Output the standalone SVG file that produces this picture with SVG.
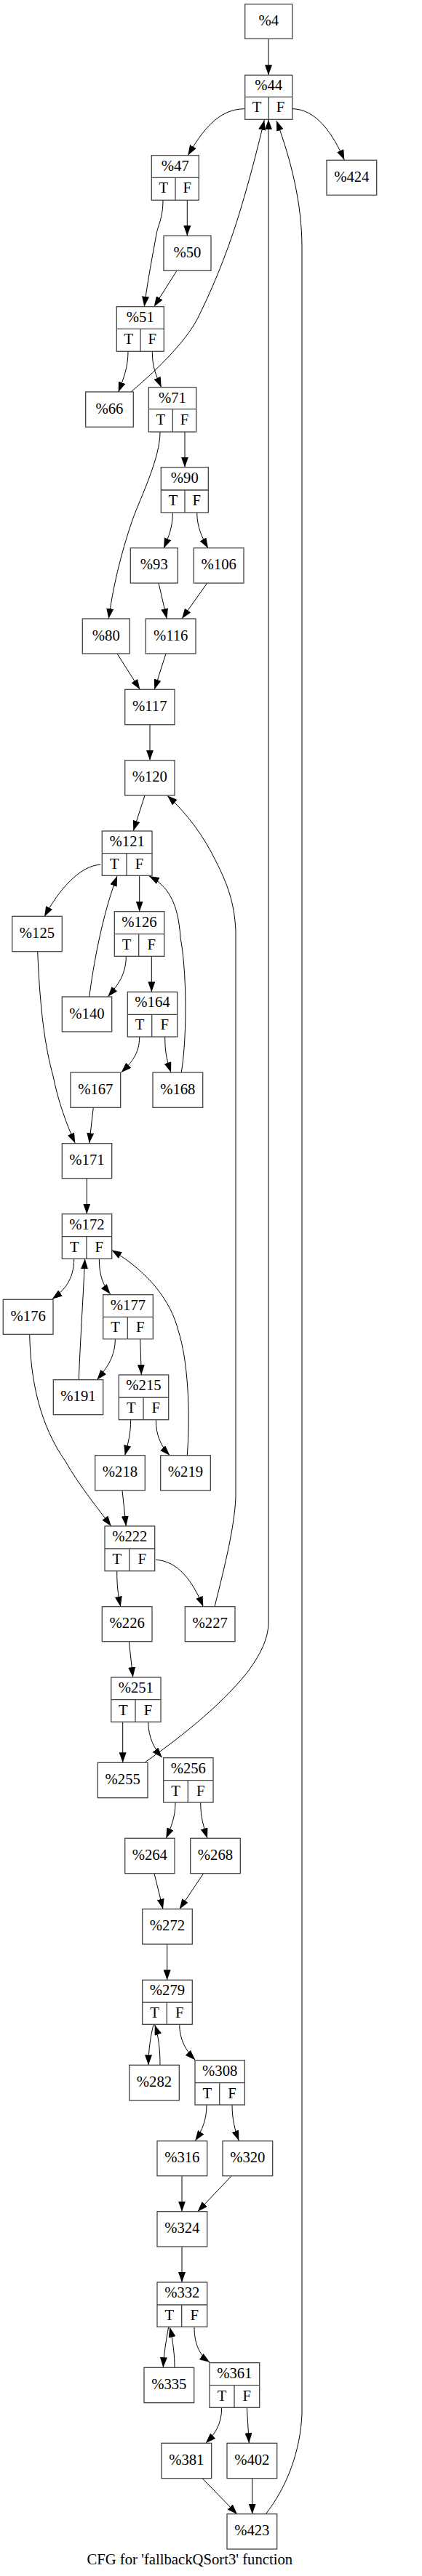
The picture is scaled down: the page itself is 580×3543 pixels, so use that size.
<svg xmlns="http://www.w3.org/2000/svg" width="580" height="3543" viewBox="0 0 580 3543">
<style>
.n rect{fill:#fff;stroke:#444;stroke-width:1.3}
.n line{stroke:#444;stroke-width:1.3}
text{font-family:"Liberation Serif","Times New Roman",serif;font-size:20.7px;text-anchor:middle;fill:#000}
.e path{fill:none;stroke:#000;stroke-width:1;marker-end:url(#a)}
</style>
<defs>
<marker id="a" markerUnits="userSpaceOnUse" markerWidth="14" markerHeight="10" refX="14" refY="5" orient="auto" viewBox="0 0 14 10"><path d="M0,0 L14,5 L0,10 z" fill="#000"/></marker>
</defs>
<rect x="0" y="0" width="580" height="3543" fill="#fff"/>
<g id="edges" class="e">
<path d="M369,53.3 L369,103.3"/>
<path d="M335.7,149.7 C300,150 278,180 258.3,213.7"/>
<path d="M402,149.7 C435,150 458,185 473.3,220"/>
<path d="M224,275.3 C224,300 217,310 215,322 C210,350 203,385 198.3,421.7"/>
<path d="M257.3,275.3 L257.3,324.3"/>
<path d="M243,372.3 L211.7,421.7"/>
<path d="M176,483.3 C176,505 170,520 162.7,539.3"/>
<path d="M209.3,483.3 C209.3,505 214,515 221.7,532.7"/>
<path d="M180,539 C220,505 260,465 275,431 C300,380 318,330 330,290 C345,240 355,200 363.3,165"/>
<path d="M220,594 C220,630 195,680 182,715 C165,765 155,810 149.3,851"/>
<path d="M254,594 L254,642.7"/>
<path d="M237.3,705 C237.3,725 232,738 225,754"/>
<path d="M270.7,705 C270.7,725 278,740 286,754"/>
<path d="M218,802 L229.3,851"/>
<path d="M284.7,802 L250,851"/>
<path d="M161,899 L192.3,948.3"/>
<path d="M228,899 L212.3,948.3"/>
<path d="M206,996.7 L206,1045.7"/>
<path d="M199,1094 L183.3,1142.7"/>
<path d="M295,2209.7 C310,2150 322,2100 324,2060 L324,1280 C322,1240 312,1215 297,1185 C280,1150 258,1120 230,1094.3"/>
<path d="M138.3,1189.3 C110,1190 80,1225 61,1260.7"/>
<path d="M191.7,1204.3 L191.7,1253.7"/>
<path d="M122.7,1371 C128,1330 140,1260 161,1205"/>
<path d="M173.3,1315.3 C173.3,1340 162,1355 148.3,1370.7"/>
<path d="M208.3,1315.3 L208.3,1364.3"/>
<path d="M191.7,1426 C191.7,1450 180,1462 166.7,1475"/>
<path d="M226.7,1426 C226.7,1450 230,1460 235,1475"/>
<path d="M249.3,1475 C258,1420 256,1330 248,1290 C245,1240 230,1218 205,1205"/>
<path d="M51.7,1308.7 C55,1390 62,1440 73,1480 C80,1515 92,1548 103.3,1572.3"/>
<path d="M128.3,1523.3 L122.7,1572.3"/>
<path d="M119.3,1620.7 L119.3,1669.7"/>
<path d="M101.7,1731.3 C101.7,1760 88,1775 71.7,1786.7"/>
<path d="M136.3,1731.3 C136.3,1755 142,1768 151.7,1780"/>
<path d="M108.3,1897.7 C110,1850 114,1790 116.7,1731.3"/>
<path d="M257.3,2001.7 C262,1940 258,1870 245,1830 C235,1790 205,1750 153.3,1719.3"/>
<path d="M158.3,1841.7 C158.3,1865 148,1880 133.3,1897.7"/>
<path d="M192.7,1841.7 L194.3,1891"/>
<path d="M179.7,1952.7 C179.7,1972 176,1985 171.7,2001.7"/>
<path d="M214.3,1952.7 C214.3,1975 222,1990 233.3,2001.7"/>
<path d="M40.7,1835.3 C42,1900 55,1960 90,2010 C110,2045 135,2075 152.7,2099"/>
<path d="M168,2050 L173.3,2099"/>
<path d="M160.7,2160.7 C160.7,2180 162,2192 165.7,2209.7"/>
<path d="M214,2145.3 C245,2147 265,2175 279.3,2209.7"/>
<path d="M177.3,2257.7 L182.7,2307"/>
<path d="M168.7,2368.3 L168.7,2424.3"/>
<path d="M203.7,2368.3 C204,2390 212,2405 222.7,2417.3"/>
<path d="M200,2423.3 C240,2395 300,2350 340,2300 C362,2270 369,2250 369,2230 L369,164.3"/>
<path d="M241,2479 C241,2500 235,2513 228.3,2528.3"/>
<path d="M275.7,2479 C275.7,2500 280,2513 285,2528.3"/>
<path d="M212,2576.7 L224,2625.7"/>
<path d="M279.7,2576.7 L246.7,2625.7"/>
<path d="M229.7,2674 L229.7,2723.3"/>
<path d="M211,2784.3 C207,2800 204,2820 204,2840.3"/>
<path d="M220,2840.3 C220,2820 218,2800 212.7,2785"/>
<path d="M246.7,2784.3 C246.7,2805 255,2820 268.3,2833.3"/>
<path d="M284,2895 C284,2915 278,2930 268.3,2944.3"/>
<path d="M319,2895 C319,2915 323,2930 328.3,2944.3"/>
<path d="M250,2992.7 L250,3041.7"/>
<path d="M318.3,2992.7 L271.7,3041.7"/>
<path d="M250,3090 L250,3139"/>
<path d="M231.7,3200.3 C228,3220 225,3240 224.3,3256.3"/>
<path d="M240,3256.3 C240,3240 238,3220 233.3,3200.7"/>
<path d="M267,3200.3 C267,3225 275,3240 288.3,3249"/>
<path d="M304.7,3311.3 C304.7,3335 295,3348 282.7,3360.3"/>
<path d="M339.3,3311.3 L342.3,3360.3"/>
<path d="M278,3408.7 L326,3458"/>
<path d="M346.7,3408.7 L346.7,3457.7"/>
<path d="M365,3458 C395,3420 413,3370 415,3320 L415,340 C415,280 400,220 380,166"/>
</g>
<g id="n4" class="n"><rect x="336.7" y="5.7" width="65" height="47.6"/><text x="369.2" y="35">%4</text></g>
<g id="n44" class="n"><rect x="336.7" y="103.3" width="65" height="61"/><line x1="336.7" y1="133.3" x2="401.7" y2="133.3"/><line x1="369.3" y1="133.3" x2="369.3" y2="164.3"/><text x="369.2" y="124.3">%44</text><text x="353" y="154.3">T</text><text x="385.5" y="154.3">F</text></g>
<g id="n424" class="n"><rect x="449" y="220.3" width="68.7" height="48"/><text x="483.3" y="249.8">%424</text></g>
<g id="n47" class="n"><rect x="208.3" y="213.7" width="65" height="61.6"/><line x1="208.3" y1="244.3" x2="273.3" y2="244.3"/><line x1="241" y1="244.3" x2="241" y2="275.3"/><text x="240.8" y="234.7">%47</text><text x="224.7" y="265.3">T</text><text x="257.2" y="265.3">F</text></g>
<g id="n50" class="n"><rect x="225" y="324.3" width="65" height="48"/><text x="257.5" y="353.8">%50</text></g>
<g id="n51" class="n"><rect x="160.3" y="421.7" width="65" height="61.6"/><line x1="160.3" y1="452.3" x2="225.3" y2="452.3"/><line x1="193" y1="452.3" x2="193" y2="483.3"/><text x="192.8" y="442.7">%51</text><text x="176.7" y="473.3">T</text><text x="209.2" y="473.3">F</text></g>
<g id="n66" class="n"><rect x="117.7" y="539" width="65.6" height="48.3"/><text x="150.5" y="568.7">%66</text></g>
<g id="n71" class="n"><rect x="204.3" y="532.7" width="65.4" height="61.3"/><line x1="204.3" y1="562.7" x2="269.7" y2="562.7"/><line x1="237.3" y1="562.7" x2="237.3" y2="594"/><text x="237" y="553.7">%71</text><text x="220.8" y="583.7">T</text><text x="253.5" y="583.7">F</text></g>
<g id="n90" class="n"><rect x="221.3" y="642.7" width="65" height="62.3"/><line x1="221.3" y1="674" x2="286.3" y2="674"/><line x1="254" y1="674" x2="254" y2="705"/><text x="253.8" y="663.7">%90</text><text x="237.7" y="695">T</text><text x="270.2" y="695">F</text></g>
<g id="n93" class="n"><rect x="179.3" y="753.7" width="65" height="48.3"/><text x="211.8" y="783.3">%93</text></g>
<g id="n106" class="n"><rect x="266.3" y="753.7" width="68.7" height="48.3"/><text x="300.7" y="783.3">%106</text></g>
<g id="n80" class="n"><rect x="113.3" y="851" width="65" height="48"/><text x="145.8" y="880.5">%80</text></g>
<g id="n116" class="n"><rect x="200.3" y="851" width="68.7" height="48"/><text x="234.7" y="880.5">%116</text></g>
<g id="n117" class="n"><rect x="171.7" y="948.3" width="68.3" height="48.4"/><text x="205.8" y="978">%117</text></g>
<g id="n120" class="n"><rect x="171.7" y="1045.7" width="68.3" height="48.3"/><text x="205.8" y="1075.3">%120</text></g>
<g id="n121" class="n"><rect x="140.3" y="1143" width="68.7" height="61.3"/><line x1="140.3" y1="1173.7" x2="209" y2="1173.7"/><line x1="174" y1="1173.7" x2="174" y2="1204.3"/><text x="174.7" y="1164">%121</text><text x="157.2" y="1194.7">T</text><text x="191.5" y="1194.7">F</text></g>
<g id="n125" class="n"><rect x="16.7" y="1260.3" width="68.6" height="48.4"/><text x="51" y="1290">%125</text></g>
<g id="n126" class="n"><rect x="157.3" y="1253.7" width="68.4" height="61.6"/><line x1="157.3" y1="1284.7" x2="225.7" y2="1284.7"/><line x1="190.7" y1="1284.7" x2="190.7" y2="1315.3"/><text x="191.5" y="1274.7">%126</text><text x="174" y="1305.7">T</text><text x="208.2" y="1305.7">F</text></g>
<g id="n140" class="n"><rect x="85.3" y="1371" width="68.4" height="48"/><text x="119.5" y="1400.5">%140</text></g>
<g id="n164" class="n"><rect x="175.3" y="1364.3" width="68.4" height="61.7"/><line x1="175.3" y1="1395.3" x2="243.7" y2="1395.3"/><line x1="208.7" y1="1395.3" x2="208.7" y2="1426"/><text x="209.5" y="1385.3">%164</text><text x="192" y="1416.3">T</text><text x="226.2" y="1416.3">F</text></g>
<g id="n167" class="n"><rect x="97" y="1475" width="68.7" height="48.3"/><text x="131.3" y="1504.7">%167</text></g>
<g id="n168" class="n"><rect x="210" y="1475" width="68.7" height="48.3"/><text x="244.3" y="1504.7">%168</text></g>
<g id="n171" class="n"><rect x="85.3" y="1572.7" width="68.4" height="48"/><text x="119.5" y="1602.2">%171</text></g>
<g id="n172" class="n"><rect x="85.3" y="1669.7" width="68.4" height="61.6"/><line x1="85.3" y1="1700.7" x2="153.7" y2="1700.7"/><line x1="119" y1="1700.7" x2="119" y2="1731.3"/><text x="119.5" y="1690.7">%172</text><text x="102.2" y="1721.7">T</text><text x="136.3" y="1721.7">F</text></g>
<g id="n176" class="n"><rect x="4.3" y="1787.3" width="68.7" height="48"/><text x="38.7" y="1816.8">%176</text></g>
<g id="n177" class="n"><rect x="141.7" y="1780.7" width="68.6" height="61"/><line x1="141.7" y1="1811.3" x2="210.3" y2="1811.3"/><line x1="175.3" y1="1811.3" x2="175.3" y2="1841.7"/><text x="176" y="1801.7">%177</text><text x="158.5" y="1832.3">T</text><text x="192.8" y="1832.3">F</text></g>
<g id="n191" class="n"><rect x="73.3" y="1897.7" width="68.4" height="48"/><text x="107.5" y="1927.2">%191</text></g>
<g id="n215" class="n"><rect x="163.3" y="1891" width="68.4" height="61.7"/><line x1="163.3" y1="1922" x2="231.7" y2="1922"/><line x1="197" y1="1922" x2="197" y2="1952.7"/><text x="197.5" y="1912">%215</text><text x="180.2" y="1943">T</text><text x="214.3" y="1943">F</text></g>
<g id="n218" class="n"><rect x="130.7" y="2001.7" width="68.6" height="48.3"/><text x="165" y="2031.3">%218</text></g>
<g id="n219" class="n"><rect x="220.7" y="2001.7" width="68.6" height="48.3"/><text x="255" y="2031.3">%219</text></g>
<g id="n222" class="n"><rect x="144" y="2099" width="68.7" height="61.7"/><line x1="144" y1="2130" x2="212.7" y2="2130"/><line x1="177.7" y1="2130" x2="177.7" y2="2160.7"/><text x="178.3" y="2120">%222</text><text x="160.8" y="2151">T</text><text x="195.2" y="2151">F</text></g>
<g id="n226" class="n"><rect x="140.3" y="2209.7" width="68.7" height="48"/><text x="174.7" y="2239.2">%226</text></g>
<g id="n227" class="n"><rect x="254.3" y="2209.7" width="68.7" height="48"/><text x="288.7" y="2239.2">%227</text></g>
<g id="n251" class="n"><rect x="152.7" y="2307" width="68.3" height="61.3"/><line x1="152.7" y1="2337.7" x2="221" y2="2337.7"/><line x1="186" y1="2337.7" x2="186" y2="2368.3"/><text x="186.8" y="2328">%251</text><text x="169.3" y="2358.7">T</text><text x="203.5" y="2358.7">F</text></g>
<g id="n255" class="n"><rect x="134.3" y="2424.3" width="68.7" height="48.4"/><text x="168.7" y="2454">%255</text></g>
<g id="n256" class="n"><rect x="224.7" y="2417.7" width="68.3" height="61.3"/><line x1="224.7" y1="2448.7" x2="293" y2="2448.7"/><line x1="258.3" y1="2448.7" x2="258.3" y2="2479"/><text x="258.8" y="2438.7">%256</text><text x="241.5" y="2469.7">T</text><text x="275.7" y="2469.7">F</text></g>
<g id="n264" class="n"><rect x="171.7" y="2528.3" width="68.3" height="48.4"/><text x="205.8" y="2558">%264</text></g>
<g id="n268" class="n"><rect x="261.7" y="2528.3" width="68.6" height="48.4"/><text x="296" y="2558">%268</text></g>
<g id="n272" class="n"><rect x="195.7" y="2625.7" width="68.6" height="48.3"/><text x="230" y="2655.3">%272</text></g>
<g id="n279" class="n"><rect x="195.7" y="2723.3" width="68.6" height="61"/><line x1="195.7" y1="2754" x2="264.3" y2="2754"/><line x1="229.3" y1="2754" x2="229.3" y2="2784.3"/><text x="230" y="2744.3">%279</text><text x="212.5" y="2775">T</text><text x="246.8" y="2775">F</text></g>
<g id="n282" class="n"><rect x="177.7" y="2840.3" width="68.6" height="48.4"/><text x="212" y="2870">%282</text></g>
<g id="n308" class="n"><rect x="268" y="2833.7" width="68.3" height="61.3"/><line x1="268" y1="2864.7" x2="336.3" y2="2864.7"/><line x1="301.7" y1="2864.7" x2="301.7" y2="2895"/><text x="302.2" y="2854.7">%308</text><text x="284.8" y="2885.7">T</text><text x="319" y="2885.7">F</text></g>
<g id="n316" class="n"><rect x="216" y="2944.7" width="68.7" height="48"/><text x="250.3" y="2974.2">%316</text></g>
<g id="n320" class="n"><rect x="306" y="2944.7" width="68.7" height="48"/><text x="340.3" y="2974.2">%320</text></g>
<g id="n324" class="n"><rect x="216" y="3041.7" width="68.7" height="48.3"/><text x="250.3" y="3071.3">%324</text></g>
<g id="n332" class="n"><rect x="216" y="3139" width="68.7" height="61.3"/><line x1="216" y1="3170" x2="284.7" y2="3170"/><line x1="249.7" y1="3170" x2="249.7" y2="3200.3"/><text x="250.3" y="3160">%332</text><text x="232.8" y="3191">T</text><text x="267.2" y="3191">F</text></g>
<g id="n335" class="n"><rect x="198" y="3256.3" width="68.7" height="48.4"/><text x="232.3" y="3286">%335</text></g>
<g id="n361" class="n"><rect x="288" y="3249.7" width="68.7" height="61.6"/><line x1="288" y1="3280.7" x2="356.7" y2="3280.7"/><line x1="322" y1="3280.7" x2="322" y2="3311.3"/><text x="322.3" y="3270.7">%361</text><text x="305" y="3301.7">T</text><text x="339.3" y="3301.7">F</text></g>
<g id="n381" class="n"><rect x="222" y="3360.3" width="68.7" height="48.4"/><text x="256.3" y="3390">%381</text></g>
<g id="n402" class="n"><rect x="312" y="3360.3" width="68.7" height="48.4"/><text x="346.3" y="3390">%402</text></g>
<g id="n423" class="n"><rect x="312" y="3457.7" width="68.7" height="48.3"/><text x="346.3" y="3487.3">%423</text></g>
<text id="title" x="260.8" y="3527">CFG for 'fallbackQSort3' function</text>
</svg>
